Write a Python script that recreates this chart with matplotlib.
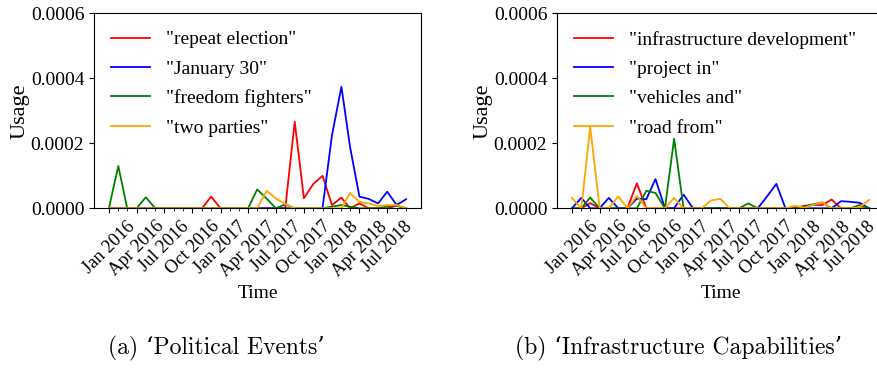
import numpy as np
import pandas as pd
import matplotlib
matplotlib.use('Agg')
import matplotlib.pyplot as plt
import matplotlib.dates as mdates
from matplotlib.ticker import FormatStrFormatter

plt.rcParams['font.family'] = 'serif'
plt.rcParams['font.serif'] = ['Liberation Serif', 'DejaVu Serif']

months = pd.date_range('2016-01-01', periods=33, freq='MS')

# (a) Political Events
repeat_election = [0, 0, 0, 0, 0, 0, 0, 0, 0, 0, 0, 0.000036, 0, 0, 0, 0, 0, 0, 0, 0,
                   0.000266, 0.000031, 0.000075, 0.0001, 0.00001, 0.000033, 0, 0.000015,
                   0, 0, 0, 0.000008, 0]
january_30 = [0] * 24 + [0.000225, 0.000374, 0.00019, 0.000036, 0.000029, 0.000015,
                         0.000051, 0.00001, 0.000028]
freedom_fighters = [0, 0.00013, 0, 0, 0.000034, 0, 0, 0, 0, 0, 0, 0, 0, 0, 0, 0,
                    0.000058, 0.00003, 0, 0.000012, 0, 0, 0, 0, 0.000005, 0.00001,
                    0.000005, 0, 0, 0, 0.000006, 0.000008, 0]
two_parties = [0] * 17 + [0.000054, 0.00003, 0.000013, 0, 0, 0, 0, 0, 0, 0.000047,
                          0.00002, 0.000015, 0.000007, 0.00001, 0.00001, 0]

# (b) Infrastructure Capabilities
infrastructure_development = [0, 0, 0.000016, 0, 0, 0, 0, 0.000077] + [0] * 17 + \
    [0.000008, 0.00001, 0.00001, 0.000027, 0, 0, 0, 0]
project_in = [0, 0.000032, 0, 0, 0.000032, 0, 0, 0.00003, 0.000028, 0.00009, 0, 0,
              0.000042, 0, 0, 0, 0, 0, 0, 0, 0, 0.000036, 0.000075, 0, 0, 0, 0, 0,
              0, 0.000022, 0.00002, 0.000017, 0]
vehicles_and = [0, 0, 0.000033, 0, 0, 0, 0, 0, 0.000054, 0.000047, 0, 0.000214, 0, 0,
                0, 0, 0, 0, 0, 0.000015, 0, 0, 0, 0, 0, 0.000005, 0.000012, 0.000018,
                0, 0, 0, 0.00001, 0]
road_from = [0.000032, 0, 0.000251, 0, 0, 0.000037, 0, 0.000038, 0, 0, 0, 0.000032,
             0, 0, 0, 0.000024, 0.000029, 0, 0, 0, 0, 0, 0, 0, 0.000008, 0.000002,
             0.00001, 0.000018, 0, 0, 0, 0.000003, 0.000026]

panels = [
    ([repeat_election, january_30, freedom_fighters, two_parties],
     ['"repeat election"', '"January 30"', '"freedom fighters"', '"two parties"'],
     "(a) \u2018Political Events\u2019"),
    ([infrastructure_development, project_in, vehicles_and, road_from],
     ['"infrastructure development"', '"project in"', '"vehicles and"', '"road from"'],
     "(b) \u2018Infrastructure Capabilities\u2019"),
]
colors = ['red', 'blue', 'green', 'orange']

fig = plt.figure(figsize=(8.78, 3.68), dpi=100)
axes_pos = [[94 / 878, 1 - 208.3 / 368, 327 / 878, 195 / 368],
            [557 / 878, 1 - 208.3 / 368, 327 / 878, 195 / 368]]
caption_x = [216 / 878, 679 / 878]

for pos, (series, labels, caption), cx in zip(axes_pos, panels, caption_x):
    ax = fig.add_axes(pos)
    for vals, lab, c in zip(series, labels, colors):
        ax.plot(months, vals, color=c, lw=1.3, label=lab)
    ax.set_ylim(0, 0.0006)
    ax.set_yticks([0, 0.0002, 0.0004, 0.0006])
    ax.yaxis.set_major_formatter(FormatStrFormatter('%.4f'))
    # one minor tick per month, labels every quarter
    ax.set_xticks(months[::3])
    ax.set_xticks(months, minor=True)
    ax.xaxis.set_major_formatter(mdates.DateFormatter('%b %Y'))
    ax.tick_params(axis='y', labelsize=14)
    ax.tick_params(axis='x', labelsize=13.2)
    for lbl in ax.get_xticklabels():
        lbl.set_rotation(45)
    ax.set_xlabel('Time', fontsize=14)
    ax.set_ylabel('Usage', fontsize=16, labelpad=1)
    ax.legend(loc='upper left', frameon=False, fontsize=14, labelspacing=0.6)
    fig.text(cx, 1 - 348 / 368, caption, ha='center', va='center', fontsize=17,
             family=['cmr10', 'DejaVu Serif'])

fig.savefig('out.png', dpi=100)
